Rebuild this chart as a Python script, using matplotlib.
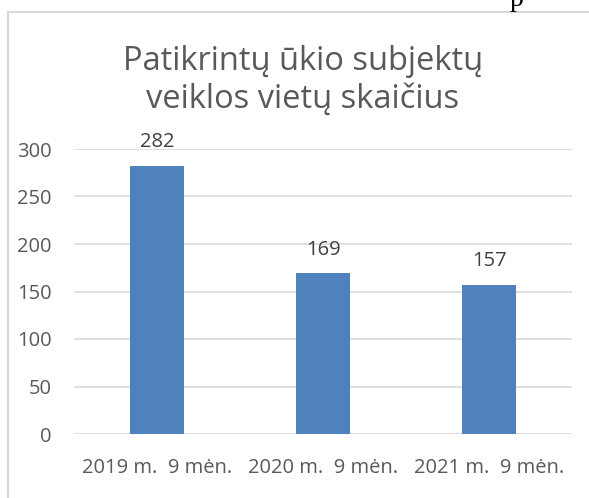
import matplotlib
matplotlib.use("Agg")
import matplotlib.pyplot as plt
from matplotlib.lines import Line2D

categories = ["2019 m.  9 mėn.", "2020 m.  9 mėn.", "2021 m.  9 mėn."]
values = [282, 169, 157]
yticks = [0, 50, 100, 150, 200, 250, 300]
title = "Patikrintų ūkio subjektų\nveiklos vietų skaičius"

plt.rcParams['font.family'] = ['Open Sans', 'DejaVu Sans']

W, H = 589, 498
fig = plt.figure(figsize=(W / 100, H / 100), dpi=100)
ax = fig.add_axes([74 / W, 1 - 434 / H, (572 - 74) / W, (434 - 149) / H])

x = list(range(len(categories)))
bars = ax.bar(x, values, width=0.32, color="#4F81BD", zorder=3)
ax.set_xlim(-0.5, len(categories) - 0.5)
ax.set_ylim(0, 300)
ax.set_yticks(yticks)
ax.set_xticks(x)
ax.set_xticklabels(categories)
ax.grid(axis="y", color="#D9D9D9", linewidth=1.2, zorder=0)
for s in ax.spines.values():
    s.set_visible(False)
ax.tick_params(axis="both", length=0, labelsize=14.5, colors="#595959")
ax.tick_params(axis="y", pad=16)
ax.tick_params(axis="x", pad=17)

for xi, v in zip(x, values):
    ax.annotate(str(v), (xi, v), xytext=(0, 10), textcoords="offset points",
                ha="center", va="bottom", fontsize=14.5, color="#404040")

fig.text(303 / W, 1 - 80 / H, title, ha="center", va="center", fontsize=23.5,
         color="#595959", linespacing=1.2)

# chart border (left and top edges visible)
fig.add_artist(Line2D([8 / W, 8 / W], [0, 1 - 12.5 / H], transform=fig.transFigure,
                      color="#D9D9D9", linewidth=1.5))
fig.add_artist(Line2D([8 / W, 1], [1 - 12.5 / H, 1 - 12.5 / H], transform=fig.transFigure,
                      color="#D9D9D9", linewidth=1.5))

# cut-off text fragment from the page above
fig.text(517 / W, 1 - 0 / H, "p", ha="center", va="center", fontsize=20,
         family=["Liberation Serif", "DejaVu Serif"], color="black")

fig.savefig("out.png", dpi=100)
